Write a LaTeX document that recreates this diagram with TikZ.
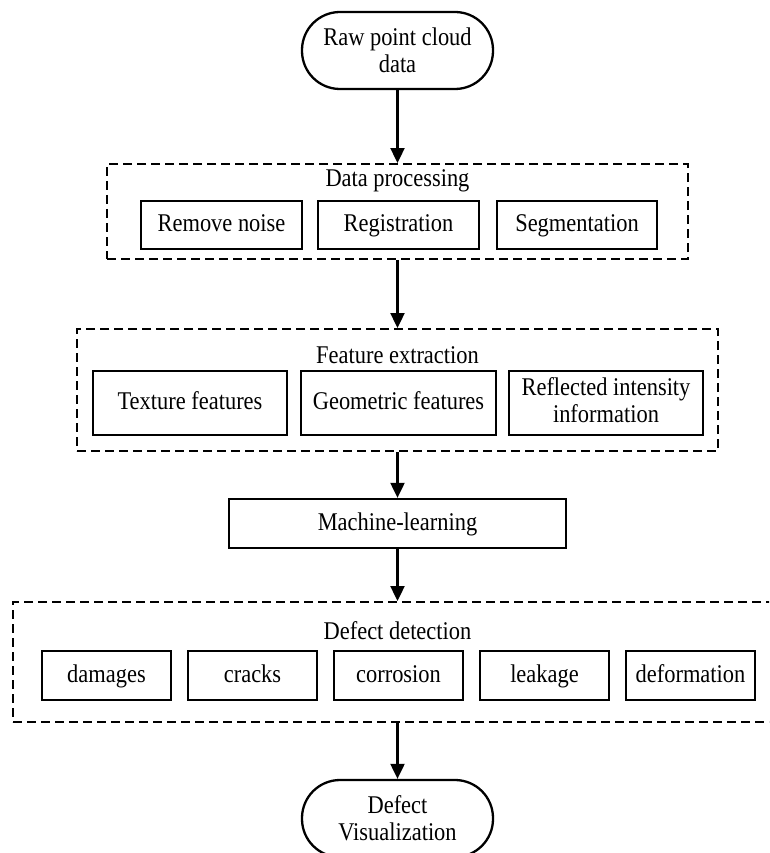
\documentclass[tikz,border=0pt]{standalone}
\usepackage{fontspec}
\setmainfont{Liberation Serif}[FakeStretch=0.88]
\usetikzlibrary{arrows.meta}

\tikzset{
	term/.style={draw,rounded corners=38pt,line width=2.3pt,minimum width=191pt,minimum height=77pt,inner sep=0,align=center},
	box/.style={draw,line width=2.3pt,inner sep=0,align=center,
		execute at begin node={\rule{0pt}{19pt}},execute at end node={\rule[-6pt]{0pt}{6pt}}},
	group/.style={draw,line width=1.9pt,dash pattern=on 9pt off 5pt,inner sep=0},
	flow/.style={line width=2.1pt,-{Triangle[length=15pt,width=14pt]}}
}

\begin{document}
\begin{tikzpicture}[x=1pt,y=-1pt,every node/.style={font=\fontsize{25.5}{27}\selectfont}]
	\clip (0,0) rectangle (769,853);
	% start / end
	\node[term] (raw) at (397.5,50.5) {Raw point cloud\\data};
	\node[term] (vis) at (397.5,818.5) {Defect\\Visualization};
	% data processing
	\node[group,minimum width=581pt,minimum height=95pt] (proc) at (397.5,211.5) {};
	\node[anchor=base] (proctitle) at (397.5,186) {Data processing};
	\node[box,minimum width=161pt,minimum height=48pt] (noise) at (221.5,225) {Remove noise};
	\node[box,minimum width=161pt,minimum height=48pt] (regist) at (398.5,225) {Registration};
	\node[box,minimum width=160pt,minimum height=48pt] (seg) at (577,225) {Segmentation};
	% feature extraction
	\node[group,minimum width=641pt,minimum height=122pt] (feat) at (397.5,390) {};
	\node[anchor=base] (feattitle) at (397.5,363) {Feature extraction};
	\node[box,minimum width=194pt,minimum height=64pt] (texture) at (190,403) {Texture features};
	\node[box,minimum width=195pt,minimum height=64pt] (geom) at (398.5,403) {Geometric features};
	\node[box,minimum width=194pt,minimum height=64pt] (refl) at (606,403) {Reflected intensity\\information};
	% classifier
	\node[box,minimum width=337pt,minimum height=49pt] (ml) at (397.5,523.5) {Machine-learning};
	% defect detection
	\node[group,minimum width=769pt,minimum height=120pt] (defect) at (397.5,662) {};
	\node[anchor=base] (defecttitle) at (397.5,639) {Defect detection};
	\node[box,minimum width=129pt,minimum height=49pt] (dmg) at (106.5,675.5) {damages};
	\node[box,minimum width=129pt,minimum height=49pt] (crack) at (252.5,675.5) {cracks};
	\node[box,minimum width=129pt,minimum height=49pt] (corr) at (398.5,675.5) {corrosion};
	\node[box,minimum width=129pt,minimum height=49pt] (leak) at (544.5,675.5) {leakage};
	\node[box,minimum width=129pt,minimum height=49pt] (deform) at (690.5,675.5) {deformation};
	% arrows
	\draw[flow] (raw) -- (proc);
	\draw[flow] (proc) -- (feat);
	\draw[flow] (feat) -- (ml);
	\draw[flow] (ml) -- (defect);
	\draw[flow] (defect) -- (vis);
\end{tikzpicture}
\end{document}
